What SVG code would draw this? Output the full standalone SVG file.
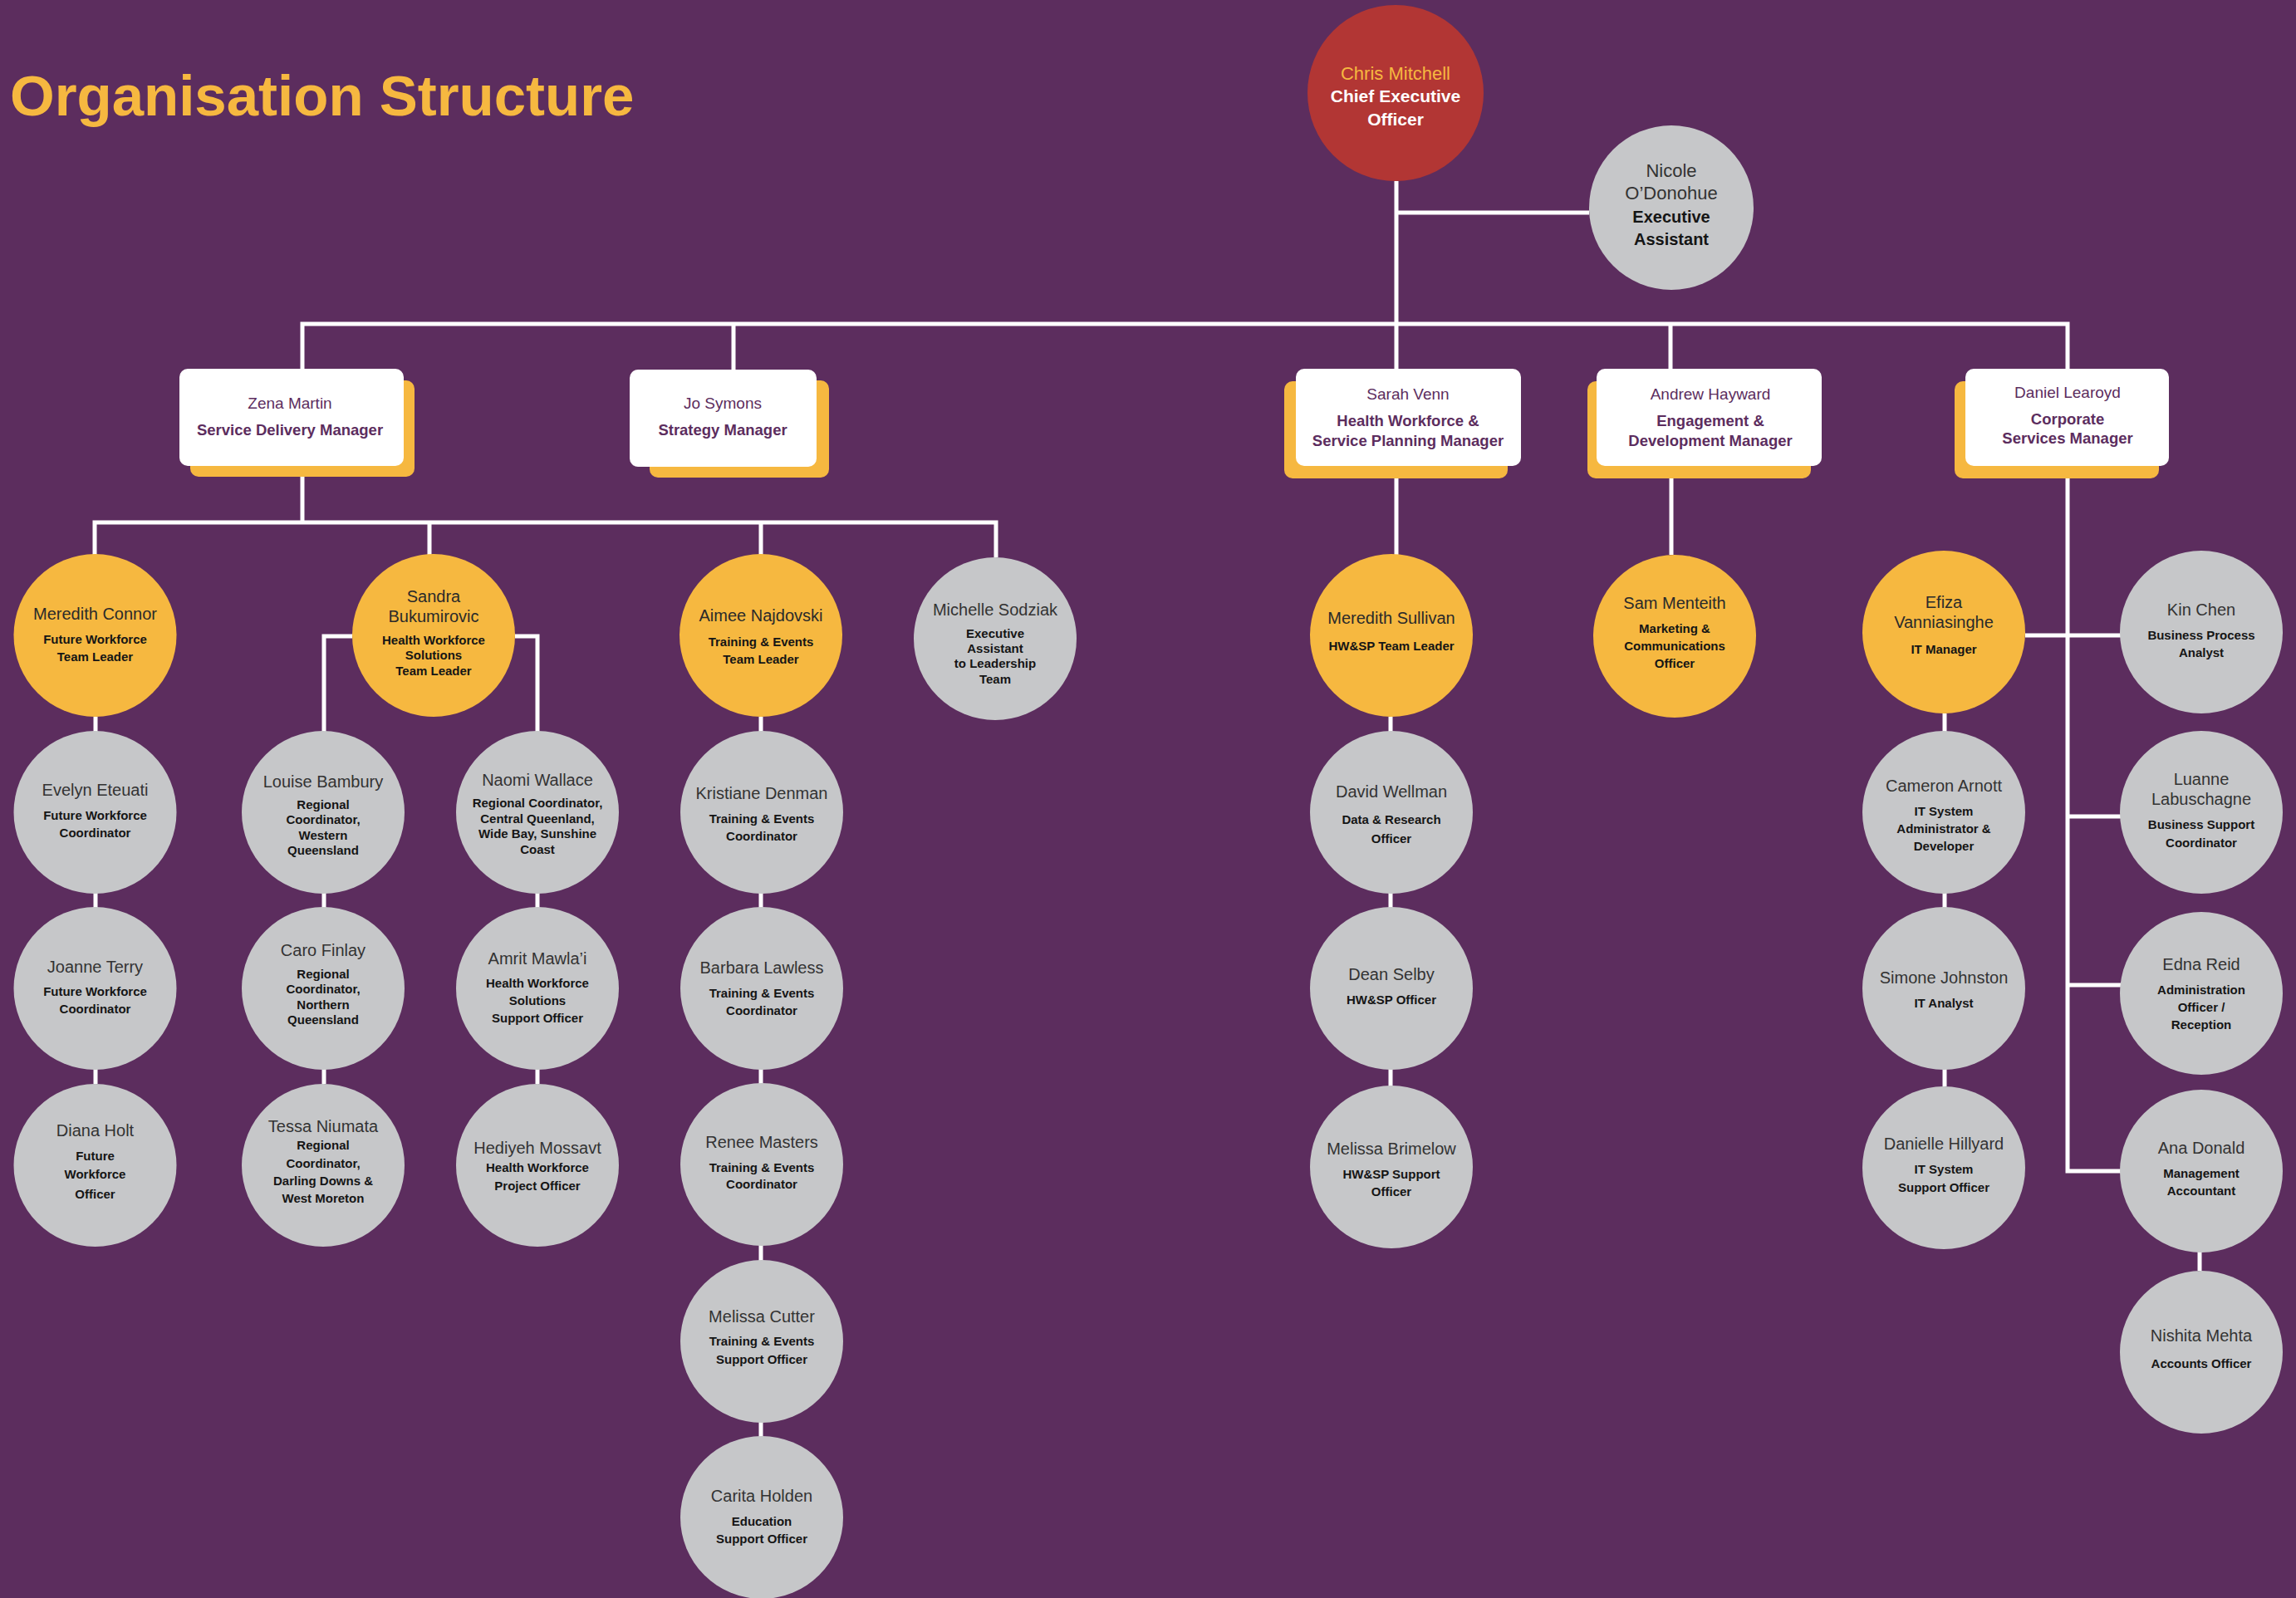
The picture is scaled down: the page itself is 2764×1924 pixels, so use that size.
<svg xmlns="http://www.w3.org/2000/svg" width="2764" height="1924" viewBox="0 0 2764 1924">
<style>
.conn{stroke:#ffffff;stroke-width:5;fill:none}
.gr{fill:#C6C7C9}
.or{fill:#F6B840}
.rd{fill:#B23634}
.sh{fill:#F6B840}
.cd{fill:#ffffff}
text{font-family:"Liberation Sans",Arial,sans-serif;text-anchor:middle}
.nm{font-size:20px;fill:#333333}
.nl{font-size:20px;fill:#2a2a2a}
.tt{font-size:15px;font-weight:bold;fill:#151515}
.cn{font-size:19px;fill:#5C2D5E}
.ct{font-size:18.5px;font-weight:bold;fill:#5C2D5E}
</style>
<rect width="2764" height="1924" fill="#5C2D5E"/>
<text x="12" y="139" style="font-size:69px;font-weight:bold;fill:#F6B840;text-anchor:start">Organisation Structure</text>

<g id="connectors">
<path class="conn" d="M1681 218 V444"/>
<path class="conn" d="M1681 256 H1913"/>
<path class="conn" d="M364 444 V390 H2489 V444"/>
<path class="conn" d="M883 390 V445"/>
<path class="conn" d="M2011 390 V444"/>
<path class="conn" d="M364 574 V629"/>
<path class="conn" d="M114 668 V629 H1199 V671"/>
<path class="conn" d="M517 629 V668"/>
<path class="conn" d="M916 629 V668"/>
<path class="conn" d="M424 766 H390 V1305"/>
<path class="conn" d="M620 766 H647 V1305"/>
<path class="conn" d="M115 863 V1305"/>
<path class="conn" d="M916 863 V1730"/>
<path class="conn" d="M1681 576 V668"/>
<path class="conn" d="M1674 863 V1308"/>
<path class="conn" d="M2012 576 V668"/>
<path class="conn" d="M2489 576 V1410 H2553"/>
<path class="conn" d="M2438 765 H2553"/>
<path class="conn" d="M2489 983 H2553"/>
<path class="conn" d="M2489 1186 H2553"/>
<path class="conn" d="M2341 859 V1308"/>
<path class="conn" d="M2648 1507 V1530"/>
</g>

<g id="ceo">
<circle class="rd" cx="1680" cy="112" r="106"/>
<text x="1680" y="96" style="font-size:22px;fill:#F6B840">Chris Mitchell</text>
<text x="1680" y="123" style="font-size:21px;font-weight:bold;fill:#ffffff">Chief Executive</text>
<text x="1680" y="151" style="font-size:21px;font-weight:bold;fill:#ffffff">Officer</text>
</g>
<g id="nicole">
<circle class="gr" cx="2012" cy="250" r="99"/>
<text x="2012" y="213" style="font-size:22px;fill:#333">Nicole</text>
<text x="2012" y="240" style="font-size:22px;fill:#333">O’Donohue</text>
<text x="2012" y="268" style="font-size:20px;font-weight:bold;fill:#151515">Executive</text>
<text x="2012" y="295" style="font-size:20px;font-weight:bold;fill:#151515">Assistant</text>
</g>

<g id="zena">
<rect class="sh" x="229" y="458" width="270" height="116" rx="10"/>
<rect class="cd" x="216" y="444" width="270" height="117" rx="10"/>
<text class="cn" x="349" y="492">Zena Martin</text>
<text class="ct" x="349" y="524">Service Delivery Manager</text>
</g>
<g id="jo">
<rect class="sh" x="782" y="458" width="216" height="117" rx="10"/>
<rect class="cd" x="758" y="445" width="225" height="117" rx="10"/>
<text class="cn" x="870" y="492">Jo Symons</text>
<text class="ct" x="870" y="524">Strategy Manager</text>
</g>
<g id="sarah">
<rect class="sh" x="1546" y="459" width="269" height="117" rx="10"/>
<rect class="cd" x="1560" y="444" width="271" height="117" rx="10"/>
<text class="cn" x="1695" y="481">Sarah Venn</text>
<text class="ct" x="1695" y="513">Health Workforce &amp;</text>
<text class="ct" x="1695" y="537">Service Planning Manager</text>
</g>
<g id="andrew">
<rect class="sh" x="1911" y="459" width="269" height="117" rx="10"/>
<rect class="cd" x="1922" y="444" width="271" height="117" rx="10"/>
<text class="cn" x="2059" y="481">Andrew Hayward</text>
<text class="ct" x="2059" y="513">Engagement &amp;</text>
<text class="ct" x="2059" y="537">Development Manager</text>
</g>
<g id="daniel">
<rect class="sh" x="2353" y="459" width="246" height="117" rx="10"/>
<rect class="cd" x="2366" y="444" width="245" height="117" rx="10"/>
<text class="cn" x="2489" y="479">Daniel Learoyd</text>
<text class="ct" x="2489" y="511">Corporate</text>
<text class="ct" x="2489" y="534">Services Manager</text>
</g>

<g id="meredith-connor">
<circle class="or" cx="114.5" cy="765" r="98"/>
<text class="nl" x="114.5" y="746">Meredith Connor</text>
<text class="tt" x="114.5" y="775">Future Workforce</text>
<text class="tt" x="114.5" y="796">Team Leader</text>
</g>
<g id="sandra">
<circle class="or" cx="522" cy="765" r="98"/>
<text class="nl" x="522" y="725">Sandra</text>
<text class="nl" x="522" y="749">Bukumirovic</text>
<text class="tt" x="522" y="776">Health Workforce</text>
<text class="tt" x="522" y="794">Solutions</text>
<text class="tt" x="522" y="813">Team Leader</text>
</g>
<g id="aimee">
<circle class="or" cx="916" cy="765" r="98"/>
<text class="nl" x="916" y="748">Aimee Najdovski</text>
<text class="tt" x="916" y="778">Training &amp; Events</text>
<text class="tt" x="916" y="799">Team Leader</text>
</g>
<g id="michelle">
<circle class="gr" cx="1198" cy="769" r="98"/>
<text class="nm" x="1198" y="741">Michelle Sodziak</text>
<text class="tt" x="1198" y="768">Executive</text>
<text class="tt" x="1198" y="786">Assistant</text>
<text class="tt" x="1198" y="804">to Leadership</text>
<text class="tt" x="1198" y="823">Team</text>
</g>
<g id="meredith-sullivan">
<circle class="or" cx="1675" cy="765" r="98"/>
<text class="nl" x="1675" y="751">Meredith Sullivan</text>
<text class="tt" x="1675" y="783">HW&amp;SP Team Leader</text>
</g>
<g id="sam">
<circle class="or" cx="2016" cy="766" r="98"/>
<text class="nl" x="2016" y="733">Sam Menteith</text>
<text class="tt" x="2016" y="762">Marketing &amp;</text>
<text class="tt" x="2016" y="783">Communications</text>
<text class="tt" x="2016" y="804">Officer</text>
</g>
<g id="efiza">
<circle class="or" cx="2340" cy="761" r="98"/>
<text class="nl" x="2340" y="732">Efiza</text>
<text class="nl" x="2340" y="756">Vanniasinghe</text>
<text class="tt" x="2340" y="787">IT Manager</text>
</g>
<g id="kin">
<circle class="gr" cx="2650" cy="761" r="98"/>
<text class="nm" x="2650" y="741">Kin Chen</text>
<text class="tt" x="2650" y="770">Business Process</text>
<text class="tt" x="2650" y="791">Analyst</text>
</g>

<g id="evelyn">
<circle class="gr" cx="114.5" cy="978" r="98"/>
<text class="nm" x="114.5" y="958">Evelyn Eteuati</text>
<text class="tt" x="114.5" y="987">Future Workforce</text>
<text class="tt" x="114.5" y="1008">Coordinator</text>
</g>
<g id="joanne">
<circle class="gr" cx="114.5" cy="1190" r="98"/>
<text class="nm" x="114.5" y="1171">Joanne Terry</text>
<text class="tt" x="114.5" y="1199">Future Workforce</text>
<text class="tt" x="114.5" y="1220">Coordinator</text>
</g>
<g id="diana">
<circle class="gr" cx="114.5" cy="1403" r="98"/>
<text class="nm" x="114.5" y="1368">Diana Holt</text>
<text class="tt" x="114.5" y="1397">Future</text>
<text class="tt" x="114.5" y="1419">Workforce</text>
<text class="tt" x="114.5" y="1443">Officer</text>
</g>

<g id="louise">
<circle class="gr" cx="389" cy="978" r="98"/>
<text class="nm" x="389" y="948">Louise Bambury</text>
<text class="tt" x="389" y="974">Regional</text>
<text class="tt" x="389" y="992">Coordinator,</text>
<text class="tt" x="389" y="1011">Western</text>
<text class="tt" x="389" y="1029">Queensland</text>
</g>
<g id="caro">
<circle class="gr" cx="389" cy="1190" r="98"/>
<text class="nm" x="389" y="1151">Caro Finlay</text>
<text class="tt" x="389" y="1178">Regional</text>
<text class="tt" x="389" y="1196">Coordinator,</text>
<text class="tt" x="389" y="1215">Northern</text>
<text class="tt" x="389" y="1233">Queensland</text>
</g>
<g id="tessa">
<circle class="gr" cx="389" cy="1403" r="98"/>
<text class="nm" x="389" y="1363">Tessa Niumata</text>
<text class="tt" x="389" y="1384">Regional</text>
<text class="tt" x="389" y="1406">Coordinator,</text>
<text class="tt" x="389" y="1427">Darling Downs &amp;</text>
<text class="tt" x="389" y="1448">West Moreton</text>
</g>

<g id="naomi">
<circle class="gr" cx="647" cy="978" r="98"/>
<text class="nm" x="647" y="946">Naomi Wallace</text>
<text class="tt" x="647" y="972">Regional Coordinator,</text>
<text class="tt" x="647" y="991">Central Queenland,</text>
<text class="tt" x="647" y="1009">Wide Bay, Sunshine</text>
<text class="tt" x="647" y="1028">Coast</text>
</g>
<g id="amrit">
<circle class="gr" cx="647" cy="1190" r="98"/>
<text class="nm" x="647" y="1161">Amrit Mawla’i</text>
<text class="tt" x="647" y="1189">Health Workforce</text>
<text class="tt" x="647" y="1210">Solutions</text>
<text class="tt" x="647" y="1231">Support Officer</text>
</g>
<g id="hediyeh">
<circle class="gr" cx="647" cy="1403" r="98"/>
<text class="nm" x="647" y="1389">Hediyeh Mossavt</text>
<text class="tt" x="647" y="1411">Health Workforce</text>
<text class="tt" x="647" y="1433">Project Officer</text>
</g>

<g id="kristiane">
<circle class="gr" cx="917" cy="978" r="98"/>
<text class="nm" x="917" y="962">Kristiane Denman</text>
<text class="tt" x="917" y="991">Training &amp; Events</text>
<text class="tt" x="917" y="1012">Coordinator</text>
</g>
<g id="barbara">
<circle class="gr" cx="917" cy="1190" r="98"/>
<text class="nm" x="917" y="1172">Barbara Lawless</text>
<text class="tt" x="917" y="1201">Training &amp; Events</text>
<text class="tt" x="917" y="1222">Coordinator</text>
</g>
<g id="renee">
<circle class="gr" cx="917" cy="1402" r="98"/>
<text class="nm" x="917" y="1382">Renee Masters</text>
<text class="tt" x="917" y="1411">Training &amp; Events</text>
<text class="tt" x="917" y="1431">Coordinator</text>
</g>
<g id="melissa-cutter">
<circle class="gr" cx="917" cy="1615" r="98"/>
<text class="nm" x="917" y="1592">Melissa Cutter</text>
<text class="tt" x="917" y="1620">Training &amp; Events</text>
<text class="tt" x="917" y="1642">Support Officer</text>
</g>
<g id="carita">
<circle class="gr" cx="917" cy="1827" r="98"/>
<text class="nm" x="917" y="1808">Carita Holden</text>
<text class="tt" x="917" y="1837">Education</text>
<text class="tt" x="917" y="1858">Support Officer</text>
</g>

<g id="david">
<circle class="gr" cx="1675" cy="978" r="98"/>
<text class="nm" x="1675" y="960">David Wellman</text>
<text class="tt" x="1675" y="992">Data &amp; Research</text>
<text class="tt" x="1675" y="1015">Officer</text>
</g>
<g id="dean">
<circle class="gr" cx="1675" cy="1190" r="98"/>
<text class="nm" x="1675" y="1180">Dean Selby</text>
<text class="tt" x="1675" y="1209">HW&amp;SP Officer</text>
</g>
<g id="melissa-brimelow">
<circle class="gr" cx="1675" cy="1405" r="98"/>
<text class="nm" x="1675" y="1390">Melissa Brimelow</text>
<text class="tt" x="1675" y="1419">HW&amp;SP Support</text>
<text class="tt" x="1675" y="1440">Officer</text>
</g>

<g id="cameron">
<circle class="gr" cx="2340" cy="978" r="98"/>
<text class="nm" x="2340" y="953">Cameron Arnott</text>
<text class="tt" x="2340" y="982">IT System</text>
<text class="tt" x="2340" y="1003">Administrator &amp;</text>
<text class="tt" x="2340" y="1024">Developer</text>
</g>
<g id="simone">
<circle class="gr" cx="2340" cy="1190" r="98"/>
<text class="nm" x="2340" y="1184">Simone Johnston</text>
<text class="tt" x="2340" y="1213">IT Analyst</text>
</g>
<g id="danielle">
<circle class="gr" cx="2340" cy="1406" r="98"/>
<text class="nm" x="2340" y="1384">Danielle Hillyard</text>
<text class="tt" x="2340" y="1413">IT System</text>
<text class="tt" x="2340" y="1435">Support Officer</text>
</g>

<g id="luanne">
<circle class="gr" cx="2650" cy="978" r="98"/>
<text class="nm" x="2650" y="945">Luanne</text>
<text class="nm" x="2650" y="969">Labuschagne</text>
<text class="tt" x="2650" y="998">Business Support</text>
<text class="tt" x="2650" y="1020">Coordinator</text>
</g>
<g id="edna">
<circle class="gr" cx="2650" cy="1196" r="98"/>
<text class="nm" x="2650" y="1168">Edna Reid</text>
<text class="tt" x="2650" y="1197">Administration</text>
<text class="tt" x="2650" y="1218">Officer /</text>
<text class="tt" x="2650" y="1239">Reception</text>
</g>
<g id="ana">
<circle class="gr" cx="2650" cy="1410" r="98"/>
<text class="nm" x="2650" y="1389">Ana Donald</text>
<text class="tt" x="2650" y="1418">Management</text>
<text class="tt" x="2650" y="1439">Accountant</text>
</g>
<g id="nishita">
<circle class="gr" cx="2650" cy="1628" r="98"/>
<text class="nm" x="2650" y="1615">Nishita Mehta</text>
<text class="tt" x="2650" y="1647">Accounts Officer</text>
</g>
</svg>
